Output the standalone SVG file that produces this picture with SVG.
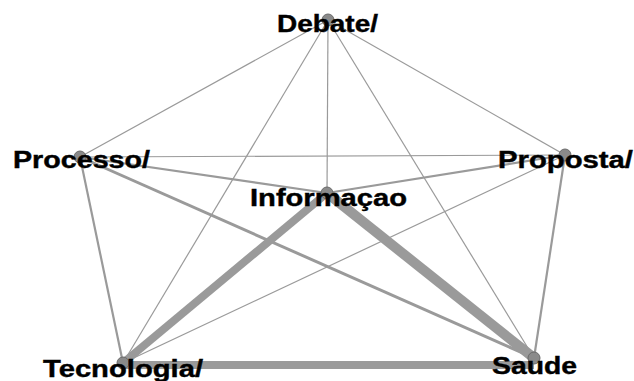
<svg xmlns="http://www.w3.org/2000/svg" width="634" height="381" viewBox="0 0 634 381">
<style>
.e{stroke:#9a9a9a;fill:none;stroke-linecap:butt}
.w1{stroke-width:1.2}
.w2{stroke-width:2.2}
.w3{stroke-width:3}
.nd{fill:#8a8a8a;stroke:#6a6a6a;stroke-width:1}
.lb{font-family:"Liberation Sans",Arial,sans-serif;font-weight:bold;font-size:23px;fill:#000;stroke:#000;stroke-width:0.4}
</style>
<rect width="634" height="381" fill="#fff"/>
<g id="edges">
<line class="e w1" x1="328" y1="20" x2="80" y2="157"/>
<line class="e w1" x1="328" y1="20" x2="565" y2="155"/>
<line class="e w1" x1="328" y1="20" x2="327" y2="193"/>
<line class="e w1" x1="328" y1="20" x2="123" y2="363"/>
<line class="e w1" x1="328" y1="20" x2="534" y2="358"/>
<line class="e w1" x1="80" y1="157" x2="565" y2="155"/>
<line class="e w2" x1="80" y1="157" x2="327" y2="193"/>
<line class="e w3" x1="80" y1="157" x2="534" y2="358"/>
<line class="e w2" x1="80" y1="157" x2="123" y2="363"/>
<line class="e w2" x1="565" y1="155" x2="327" y2="193"/>
<line class="e w1" x1="565" y1="155" x2="123" y2="363"/>
<line class="e w2" x1="565" y1="155" x2="534" y2="358"/>
<line class="e" stroke-width="8" x1="327" y1="193" x2="123" y2="363"/>
<line class="e" stroke-width="10" x1="327" y1="193" x2="534" y2="358"/>
<line class="e" stroke-width="8" x1="123" y1="365" x2="534" y2="365"/>
</g>
<g id="n-debate"><circle class="nd" cx="328" cy="20" r="6"/><text class="lb" x="277" y="32" textLength="101" lengthAdjust="spacingAndGlyphs">Debate/</text></g>
<g id="n-processo"><circle class="nd" cx="80" cy="157" r="6"/><text class="lb" x="13" y="168" textLength="137" lengthAdjust="spacingAndGlyphs">Processo/</text></g>
<g id="n-proposta"><circle class="nd" cx="565" cy="155" r="6"/><text class="lb" x="498" y="168" textLength="135" lengthAdjust="spacingAndGlyphs">Proposta/</text></g>
<g id="n-informacao"><circle class="nd" cx="327" cy="193" r="6"/><text class="lb" x="250" y="206" textLength="157" lengthAdjust="spacingAndGlyphs">Informaçao</text></g>
<g id="n-tecnologia"><circle class="nd" cx="123" cy="363" r="6"/><text class="lb" x="43" y="377" textLength="160" lengthAdjust="spacingAndGlyphs">Tecnologia/</text></g>
<g id="n-saude"><circle class="nd" cx="534" cy="358" r="6"/><text class="lb" x="492" y="374" textLength="85" lengthAdjust="spacingAndGlyphs">Saude</text></g>
</svg>
